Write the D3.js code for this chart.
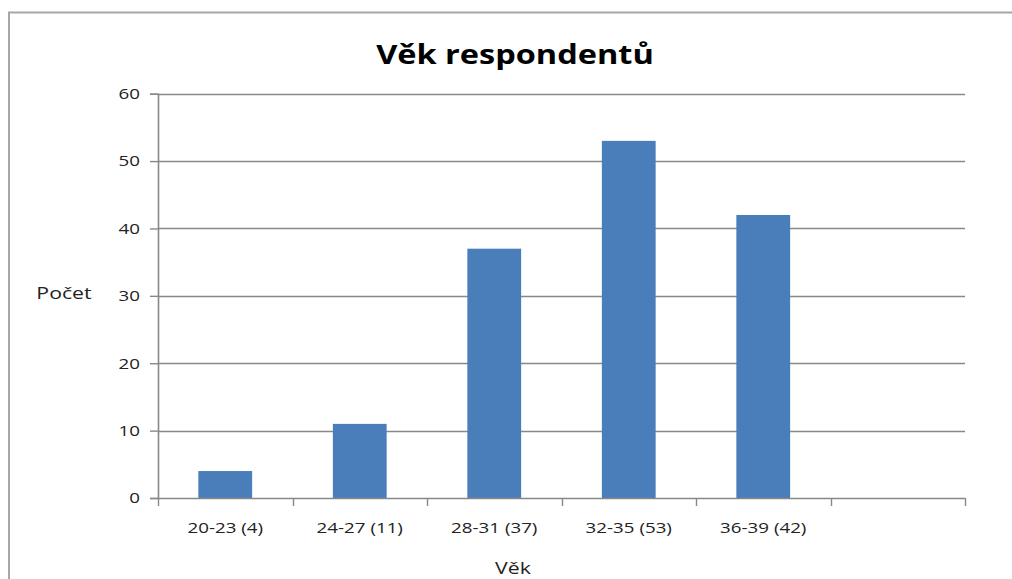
<!DOCTYPE html>
<html>
<head>
<meta charset="utf-8">
<script src="https://cdn.jsdelivr.net/npm/d3@7"></script>
<style>
  html, body { margin: 0; padding: 0; background: #fff; overflow: hidden; }
  svg { display: block; font-family: "Open Sans", "DejaVu Sans", sans-serif; }
</style>
</head>
<body>
<svg id="chart" width="1012" height="579"></svg>
<script>
// Données du graphique
const categories = ["20-23 (4)", "24-27 (11)", "28-31 (37)", "32-35 (53)", "36-39 (42)", ""];
const counts = [4, 11, 37, 53, 42, null];
const yTicks = [0, 10, 20, 30, 40, 50, 60];

const title = "Věk respondentů";
const xLabel = "Věk";
const yLabel = "Počet";

const svg = d3.select("#chart");

// cadre extérieur (seuls les bords haut et gauche sont visibles)
svg.append("line")
  .attr("x1", 8).attr("x2", 1012)
  .attr("y1", 12.5).attr("y2", 12.5)
  .attr("stroke", "#a6a6a6").attr("stroke-width", 2);
svg.append("line")
  .attr("x1", 9).attr("x2", 9)
  .attr("y1", 12).attr("y2", 579)
  .attr("stroke", "#a6a6a6").attr("stroke-width", 2);

const plotLeft = 158, plotRight = 965, plotTop = 93.7, plotBottom = 498;

const x = d3.scaleBand()
  .domain(d3.range(categories.length))
  .range([plotLeft, plotRight])
  .paddingInner(0.6)
  .paddingOuter(0.3);

const y = d3.scaleLinear().domain([0, 60]).range([plotBottom, plotTop]);

// grille horizontale
svg.append("g")
  .selectAll("line")
  .data(yTicks.filter((d) => d > 0))
  .join("line")
  .attr("x1", plotLeft).attr("x2", plotRight)
  .attr("y1", (d) => Math.round(y(d)) + 0.5)
  .attr("y2", (d) => Math.round(y(d)) + 0.5)
  .attr("stroke", "#888")
  .attr("stroke-width", 1.4);

// barres
svg.append("g")
  .selectAll("rect")
  .data(counts.map((v, i) => ({ i, v })).filter((d) => d.v != null))
  .join("rect")
  .attr("x", (d) => x(d.i))
  .attr("y", (d) => y(d.v))
  .attr("width", x.bandwidth())
  .attr("height", (d) => y(0) - y(d.v))
  .attr("fill", "#4a7ebb");

// axe Y
const yAxis = svg.append("g")
  .attr("transform", `translate(${plotLeft},0)`)
  .call(d3.axisLeft(y).tickValues(yTicks).tickSize(8).tickPadding(10));
yAxis.select(".domain").attr("stroke", "#888").attr("stroke-width", 1.6);
yAxis.selectAll(".tick line").attr("stroke", "#888").attr("stroke-width", 1.4);
yAxis.selectAll(".tick text")
  .attr("font-size", 15)
  .attr("font-family", "Open Sans, sans-serif")
  .attr("fill", "#222");

// axe X : ticks aux limites des catégories
const step = x.step();
const boundaries = d3.range(categories.length + 1).map((i) => plotLeft + i * step);
const xAxis = svg.append("g");
xAxis.append("line")
  .attr("x1", plotLeft).attr("x2", plotRight)
  .attr("y1", plotBottom + 0.5).attr("y2", plotBottom + 0.5)
  .attr("stroke", "#888").attr("stroke-width", 1.6);
xAxis.selectAll(".xt")
  .data(boundaries)
  .join("line")
  .attr("class", "xt")
  .attr("x1", (d) => Math.round(d) + 0.5).attr("x2", (d) => Math.round(d) + 0.5)
  .attr("y1", plotBottom).attr("y2", plotBottom + 8)
  .attr("stroke", "#888").attr("stroke-width", 1.4);
xAxis.selectAll("text")
  .data(categories)
  .join("text")
  .attr("x", (d, i) => x(i) + x.bandwidth() / 2)
  .attr("y", 533)
  .attr("text-anchor", "middle")
  .attr("font-size", 15)
  .attr("fill", "#222")
  .text((d) => d);

// titres
svg.append("text")
  .attr("x", 515).attr("y", 64)
  .attr("text-anchor", "middle")
  .attr("font-size", 26)
  .attr("font-weight", "bold")
  .attr("fill", "#000")
  .text(title);

svg.append("text")
  .attr("x", 513).attr("y", 574)
  .attr("text-anchor", "middle")
  .attr("font-size", 17)
  .attr("fill", "#222")
  .text(xLabel);

svg.append("text")
  .attr("x", 64).attr("y", 299)
  .attr("text-anchor", "middle")
  .attr("font-size", 17)
  .attr("fill", "#222")
  .text(yLabel);

// le graphique d'origine est étiré horizontalement : on élargit les textes
svg.selectAll("text").each(function () {
  const len = this.getComputedTextLength();
  if (len > 0) {
    d3.select(this)
      .attr("textLength", len * 1.25)
      .attr("lengthAdjust", "spacingAndGlyphs");
  }
});
</script>
</body>
</html>
